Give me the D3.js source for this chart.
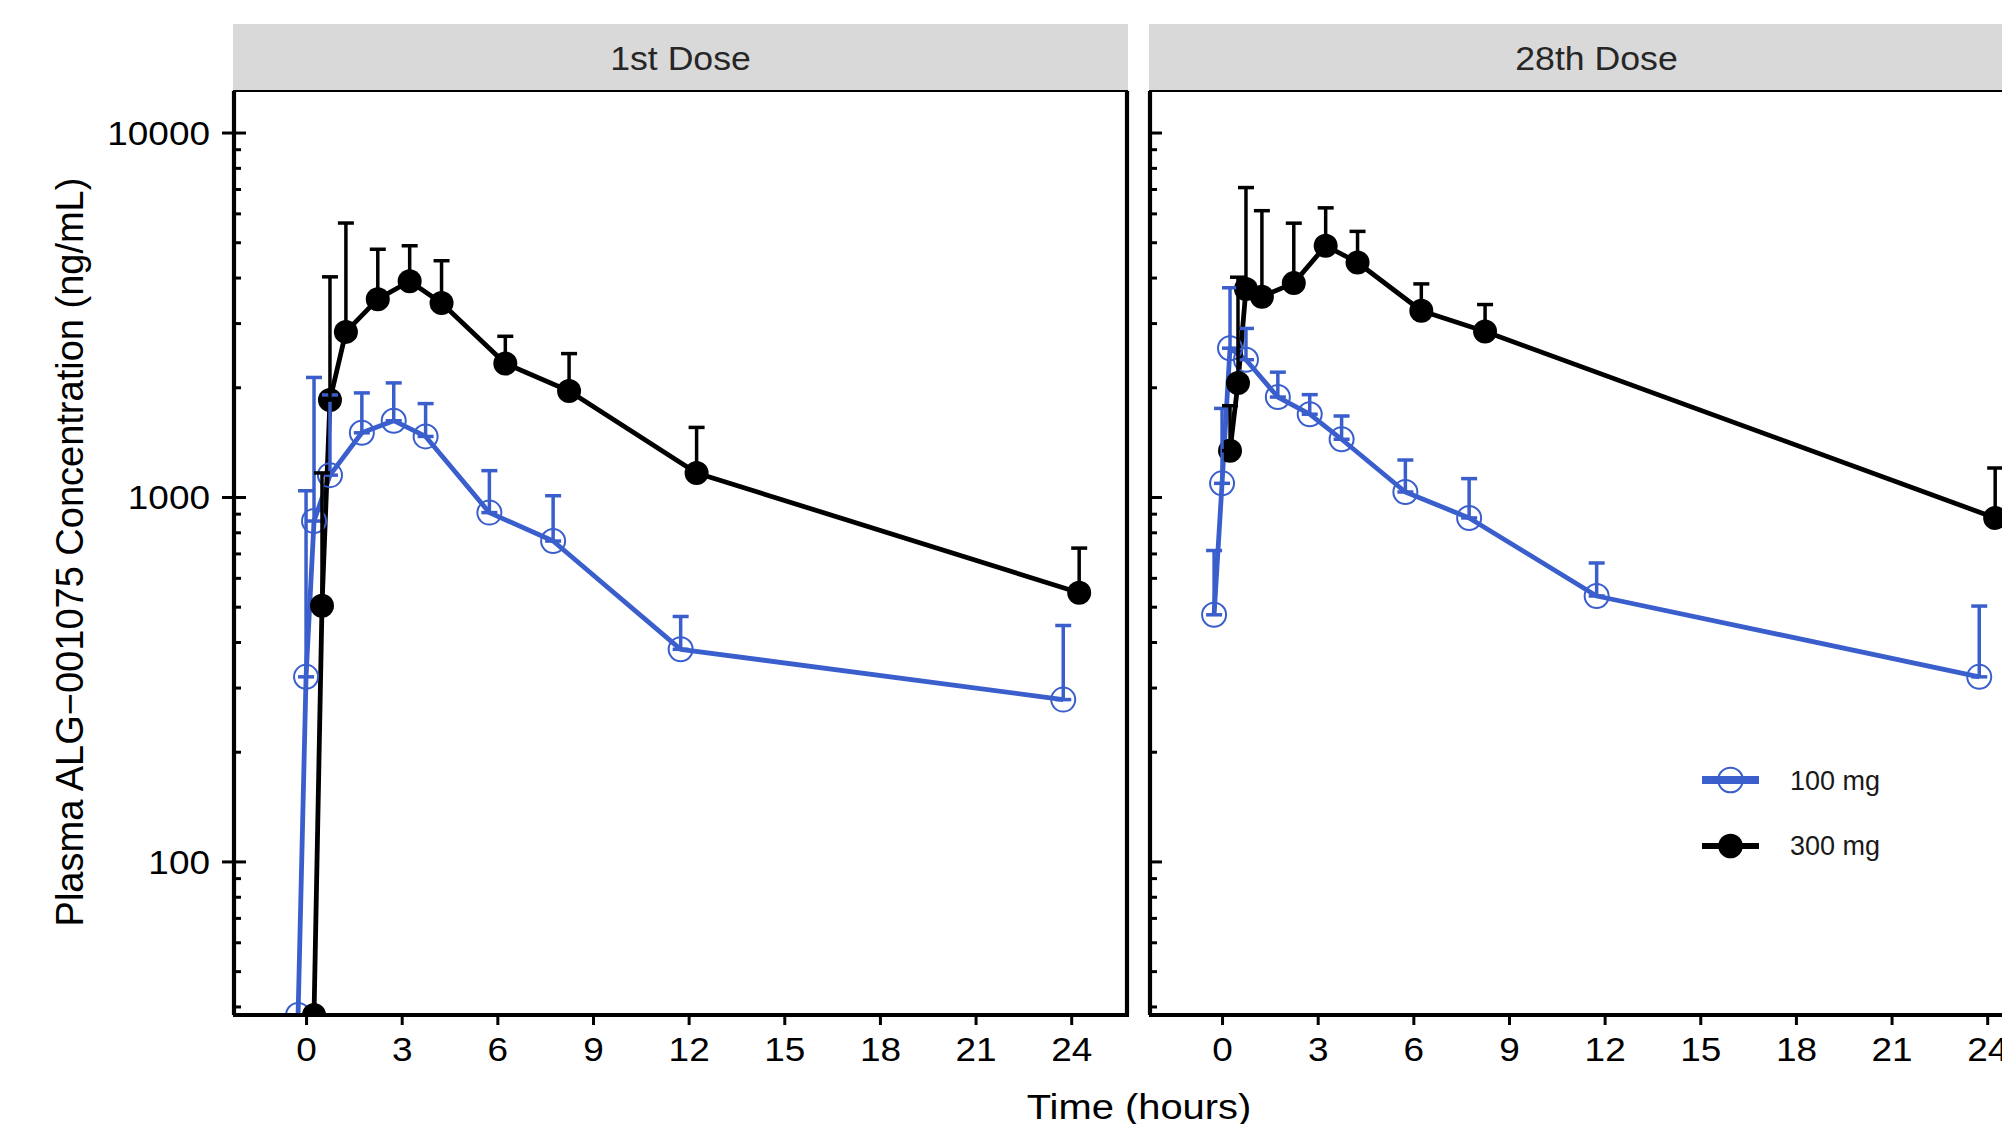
<!DOCTYPE html>
<html><head><meta charset="utf-8">
<script src="https://cdn.jsdelivr.net/npm/d3@7"></script>
<style>body{margin:0;background:#fff} svg{display:block;font-family:"Liberation Sans",Arial,sans-serif}</style>
</head><body><svg id="c" width="2002" height="1124"></svg>
<script>
// ---- data ----
const times = [0, 0.25, 0.5, 1, 2, 3, 4, 6, 8, 12, 24];
const panelNames = ["1st Dose", "28th Dose"];
const doseNames = ["100 mg", "300 mg"];
// 0 = below quantification limit (drawn at axis floor); null = no sample
const dose1_100_mean  = [0, 321, 859, 1148, 1500, 1619, 1466, 906, 757, 382, 278];
const dose1_100_upper = [null, 1040, 2128, 1905, 1930, 2056, 1804, 1181, 1008, 470, 444];
const dose1_300_mean  = [0, 503, 1845, 2838, 3490, 3908, 3405, 2323, 1954, 1164, 546];
const dose1_300_upper = [null, 1164, 4018, 5645, 4783, 4890, 4449, 2760, 2474, 1552, 724];
const dose28_100_mean  = [475, 1090, 2560, 2380, 1880, 1687, 1440, 1032, 876, 535, 321];
const dose28_100_upper = [713, 1750, 3750, 2900, 2200, 1909, 1668, 1263, 1123, 659, 502];
const dose28_300_mean  = [1340, 2056, 3720, 3545, 3862, 4890, 4400, 3243, 2845, null, 876];
const dose28_300_upper = [1780, 4009, 7063, 6103, 5640, 6213, 5355, 3843, 3373, null, 1201];
const xTicks = [0, 3, 6, 9, 12, 15, 18, 21, 24];
const yMajorTicks = [100, 1000, 10000];
const yTickLabels = ["100", "1000", "10000"];

const series = [
  {panel: 0, dose: 0, mean: dose1_100_mean, upper: dose1_100_upper},
  {panel: 0, dose: 1, mean: dose1_300_mean, upper: dose1_300_upper},
  {panel: 1, dose: 0, mean: dose28_100_mean, upper: dose28_100_upper},
  {panel: 1, dose: 1, mean: dose28_300_mean, upper: dose28_300_upper},
];

// ---- layout / style ----
const FONT = '"Liberation Sans", Arial, sans-serif';
const colors = ["#3A5FCD", "#000000"];
const dodge = [-0.25, 0.25];
const plotTop = 91, plotBottom = 1015, stripTop = 24;
const panelX = [[234, 1127], [1150, 2043]];
const yMin = 37.9, yMax = 13000;
const SX = 1.12; // horizontal stretch of text

const svg = d3.select("#c");
const y = d3.scaleLog().domain([yMin, yMax]).range([plotBottom, plotTop]);

const minorTicks = [];
for (let e = 1; e <= 4; e++) for (let m = 2; m <= 9; m++) {
  const v = m * Math.pow(10, e);
  if (v >= yMin && v <= yMax) minorTicks.push(v);
}

function txt(g, x, yy, s, size, anchor, sx, fill) {
  return g.append("text").attr("transform", `translate(${x},${yy}) scale(${sx},1)`)
    .attr("text-anchor", anchor).attr("font-size", size).attr("fill", fill)
    .attr("font-family", FONT).text(s);
}

panelNames.forEach((name, pi) => {
  const [x0, x1] = panelX[pi];
  const x = d3.scaleLinear().domain([-2.26, 25.75]).range([x0, x1]);
  const g = svg.append("g");

  // strip
  g.append("rect").attr("x", x0 - 1).attr("y", stripTop).attr("width", x1 - x0 + 2)
    .attr("height", plotTop - stripTop).attr("fill", "#d9d9d9");
  txt(g, (x0 + x1) / 2, 70, name, 33, "middle", 1.08, "#262626");

  // clip
  const cid = "clip" + pi;
  svg.append("clipPath").attr("id", cid).append("rect")
    .attr("x", x0).attr("y", plotTop).attr("width", x1 - x0).attr("height", plotBottom - plotTop);
  const data = g.append("g").attr("clip-path", `url(#${cid})`);

  const yv = v => y(Math.max(v, yMin));
  const seriesHere = series.filter(s => s.panel === pi);

  // lines
  seriesHere.forEach(s => {
    const pts = times.map((t, i) => ({t: t + dodge[s.dose], v: s.mean[i]})).filter(d => d.v !== null);
    data.append("path").datum(pts)
      .attr("d", d3.line().x(d => x(d.t)).y(d => yv(d.v)))
      .attr("fill", "none").attr("stroke", colors[s.dose]).attr("stroke-width", 4.8)
      .attr("stroke-linejoin", "round");
  });
  // points
  seriesHere.forEach(s => {
    times.forEach((t, i) => {
      const v = s.mean[i];
      if (v === null) return;
      const c = data.append("circle").attr("cx", x(t + dodge[s.dose])).attr("cy", yv(v)).attr("r", 12);
      if (s.dose === 0) c.attr("fill", "none").attr("stroke", colors[0]).attr("stroke-width", 2);
      else c.attr("fill", "#000");
    });
  });
  // error bars (mean to mean+SD, caps at both ends)
  seriesHere.forEach(s => {
    times.forEach((t, i) => {
      const v = s.mean[i], u = s.upper[i];
      if (v === null || u === null || v === 0) return;
      const cx = x(t + dodge[s.dose]);
      const eg = data.append("g").attr("stroke", colors[s.dose]).attr("stroke-width", 3.5);
      eg.append("line").attr("x1", cx).attr("x2", cx).attr("y1", yv(v)).attr("y2", yv(u));
      eg.append("line").attr("x1", cx - 8).attr("x2", cx + 8).attr("y1", yv(u)).attr("y2", yv(u));
      eg.append("line").attr("x1", cx - 8).attr("x2", cx + 8).attr("y1", yv(v)).attr("y2", yv(v));
    });
  });

  // frame
  g.append("rect").attr("x", x0).attr("y", plotTop).attr("width", x1 - x0).attr("height", plotBottom - plotTop)
    .attr("fill", "none").attr("stroke", "#000").attr("stroke-width", 2);
  [[x0, plotTop, x0, plotBottom], [x1, plotTop, x1, plotBottom], [x0 - 1, plotBottom, x1 + 2, plotBottom]]
    .forEach(l => g.append("line").attr("x1", l[0]).attr("y1", l[1]).attr("x2", l[2]).attr("y2", l[3])
      .attr("stroke", "#000").attr("stroke-width", 4.2));

  // x axis
  const xa = g.append("g").attr("transform", `translate(0,${plotBottom})`)
    .call(d3.axisBottom(x).tickValues(xTicks).tickSize(10).tickFormat(d3.format("d")));
  xa.select(".domain").remove();
  xa.selectAll(".tick line").attr("stroke", "#000").attr("stroke-width", 3);
  xa.selectAll(".tick text").attr("y", 46).attr("dy", null).attr("font-size", 33)
    .attr("font-family", FONT).attr("fill", "#000").attr("transform", `scale(${SX},1)`);

  // y axis: inward log ticks
  const yin = g.append("g").attr("transform", `translate(${x0},0)`)
    .call(d3.axisRight(y).tickValues(yMajorTicks).tickSize(12).tickFormat(""));
  yin.select(".domain").remove();
  yin.selectAll(".tick line").attr("stroke", "#000").attr("stroke-width", 3);
  const ymi = g.append("g").attr("transform", `translate(${x0},0)`)
    .call(d3.axisRight(y).tickValues(minorTicks).tickSize(7).tickFormat(""));
  ymi.select(".domain").remove();
  ymi.selectAll(".tick line").attr("stroke", "#000").attr("stroke-width", 3);

  if (pi === 0) {
    const yo = g.append("g").attr("transform", `translate(${x0},0)`)
      .call(d3.axisLeft(y).tickValues(yMajorTicks).tickSize(12)
        .tickFormat((d, i) => yTickLabels[i]));
    yo.select(".domain").remove();
    yo.selectAll(".tick line").attr("stroke", "#000").attr("stroke-width", 3);
    yo.selectAll(".tick text").attr("x", 0).attr("dy", "0.36em").attr("font-size", 33)
      .attr("font-family", FONT).attr("fill", "#000")
      .attr("transform", `translate(-24,0) scale(${SX},1)`);
  }
});

// axis titles
txt(svg, 1139, 1119, "Time (hours)", 35, "middle", 1.14, "#000");
svg.append("text").attr("transform", "translate(83,552) rotate(-90)")
  .attr("text-anchor", "middle").attr("font-size", 38).attr("font-family", FONT)
  .attr("fill", "#000").text("Plasma ALG\u2212001075 Concentration (ng/mL)");

// legend
const leg = svg.append("g");
doseNames.forEach((n, i) => {
  const ly = [780, 846][i];
  leg.append("line").attr("x1", 1702).attr("x2", 1759).attr("y1", ly).attr("y2", ly)
    .attr("stroke", colors[i]).attr("stroke-width", i === 0 ? 8 : 6);
  const c = leg.append("circle").attr("cx", 1730.5).attr("cy", ly).attr("r", 12.3);
  if (i === 0) c.attr("fill", "none").attr("stroke", colors[0]).attr("stroke-width", 2);
  else c.attr("fill", "#000");
  txt(leg, 1790, [790, 855][i], n, 27, "start", 1.0, "#1a1a1a");
});
</script></body></html>
